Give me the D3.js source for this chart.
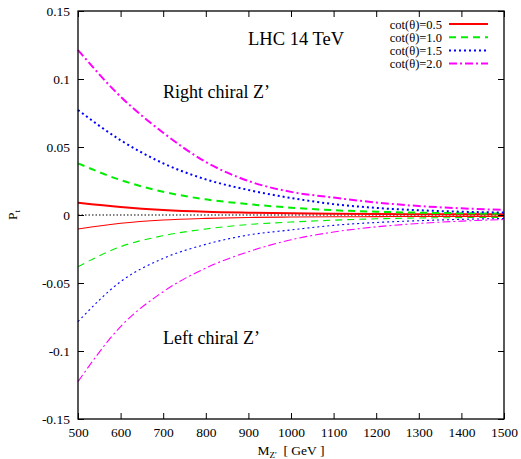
<!DOCTYPE html>
<html>
<head>
<meta charset="utf-8">
<script src="https://cdn.jsdelivr.net/npm/d3@7"></script>
<style>
  html, body { margin: 0; padding: 0; background: #fff; }
  svg { display: block; }
  svg text { font-family: "Liberation Serif", "Times New Roman", serif !important; fill: #000; }
</style>
</head>
<body>
<svg id="chart" width="521" height="459"></svg>
<script>
// Z' mass points (GeV)
const massValues = [500, 600, 700, 800, 900, 1000, 1100, 1200, 1300, 1400, 1500];

// Top polarization, right chiral Z'
const rightCot05 = [0.0090, 0.0059, 0.0037, 0.0024, 0.0017, 0.0012, 0.0009, 0.0007, 0.0006, 0.0005, 0.0005];
const rightCot10 = [0.0380, 0.0257, 0.0171, 0.0115, 0.0080, 0.0054, 0.0035, 0.0024, 0.0017, 0.0013, 0.0010];
const rightCot15 = [0.0772, 0.0550, 0.0380, 0.0262, 0.0184, 0.0125, 0.0080, 0.0052, 0.0035, 0.0024, 0.0018];
const rightCot20 = [0.1213, 0.0870, 0.0605, 0.0390, 0.0250, 0.0170, 0.0128, 0.0092, 0.0066, 0.0049, 0.0037];

// Top polarization, left chiral Z'
const leftCot05 = [-0.0103, -0.0061, -0.0037, -0.0025, -0.0018, -0.0015, -0.0013, -0.0012, -0.0011, -0.0010, -0.0010];
const leftCot10 = [-0.0380, -0.0233, -0.0152, -0.0103, -0.0070, -0.0052, -0.0038, -0.0028, -0.0022, -0.0019, -0.0017];
const leftCot15 = [-0.0784, -0.0490, -0.0319, -0.0216, -0.0147, -0.0110, -0.0076, -0.0055, -0.0042, -0.0032, -0.0026];
const leftCot20 = [-0.1225, -0.0820, -0.0564, -0.0390, -0.0270, -0.0182, -0.0125, -0.0087, -0.0062, -0.0045, -0.0033];

const legendLabels = ["cot(\u03B8)=0.5", "cot(\u03B8)=1.0", "cot(\u03B8)=1.5", "cot(\u03B8)=2.0"];
const xTickValues = [500, 600, 700, 800, 900, 1000, 1100, 1200, 1300, 1400, 1500];
const yTickValues = [0.15, 0.1, 0.05, 0, -0.05, -0.1, -0.15];
const yTickLabels = ["0.15", "0.1", "0.05", "0", "-0.05", "-0.1", "-0.15"];

// line styles per cot(theta)
const styles = [
  { color: "#ff0000", dash: null },
  { color: "#00ee00", dash: "7,5" },
  { color: "#0000ff", dash: "2,3" },
  { color: "#ff00ff", dash: "8,3,2,3" }
];

const svg = d3.select("#chart");
const margin = { left: 78, right: 17, top: 11, bottom: 40 };
const W = 521, H = 459;
const x = d3.scaleLinear().domain([500, 1500]).range([margin.left, W - margin.right]);
const y = d3.scaleLinear().domain([-0.15, 0.15]).range([H - margin.bottom, margin.top]);

const plotW = x.range()[1] - x.range()[0];
const plotH = y.range()[0] - y.range()[1];

// zero reference line
svg.append("line")
  .attr("x1", x(500)).attr("x2", x(1500))
  .attr("y1", y(0)).attr("y2", y(0))
  .attr("stroke", "#000").attr("stroke-width", 1)
  .attr("stroke-dasharray", "1.5,2");

const line = d3.line()
  .x(d => x(d[0]))
  .y(d => y(d[1]))
  .curve(d3.curveMonotoneX);

const rightSeries = [rightCot05, rightCot10, rightCot15, rightCot20];
const leftSeries = [leftCot05, leftCot10, leftCot15, leftCot20];

function drawSeries(list, width) {
  list.forEach((vals, i) => {
    const pts = massValues.map((m, k) => [m, vals[k]]);
    svg.append("path")
      .attr("d", line(pts))
      .attr("fill", "none")
      .attr("stroke", styles[i].color)
      .attr("stroke-width", width)
      .attr("stroke-dasharray", styles[i].dash);
  });
}
drawSeries(leftSeries, 1.1);
drawSeries(rightSeries, 2);

// axes with inward ticks on all four sides
const tickLen = 6;
const axBottom = svg.append("g").attr("transform", `translate(0,${y(-0.15)})`)
  .call(d3.axisBottom(x).tickValues(xTickValues).tickSize(-tickLen).tickPadding(8).tickFormat(d3.format("d")));
const axTop = svg.append("g").attr("transform", `translate(0,${y(0.15)})`)
  .call(d3.axisTop(x).tickValues(xTickValues).tickSize(-tickLen).tickFormat(""));
const axLeft = svg.append("g").attr("transform", `translate(${x(500)},0)`)
  .call(d3.axisLeft(y).tickValues(yTickValues).tickSize(-tickLen).tickPadding(8)
    .tickFormat((d, i) => yTickLabels[i]));
const axRight = svg.append("g").attr("transform", `translate(${x(1500)},0)`)
  .call(d3.axisRight(y).tickValues(yTickValues).tickSize(-tickLen).tickFormat(""));

[axBottom, axTop, axLeft, axRight].forEach(g => {
  g.attr("font-family", null).attr("font-size", 13.5);
  g.select(".domain").remove();
  g.selectAll(".tick line").attr("stroke", "#000").attr("stroke-width", 1);
  g.selectAll("text").attr("fill", "#000");
});

// frame
svg.append("rect")
  .attr("x", x(500)).attr("y", y(0.15))
  .attr("width", plotW).attr("height", plotH)
  .attr("fill", "none").attr("stroke", "#000").attr("stroke-width", 1.3);

// axis titles
const xt = svg.append("text")
  .attr("x", (x(500) + x(1500)) / 2).attr("y", 455)
  .attr("text-anchor", "middle").attr("font-size", 13.5);
xt.append("tspan").text("M");
xt.append("tspan").attr("font-size", 9).attr("dy", 3).text("Z'");
xt.append("tspan").attr("dy", -3).attr("xml:space", "preserve").text("  [ GeV ]");

const yt = svg.append("text")
  .attr("transform", `translate(17,${y(0)}) rotate(-90)`)
  .attr("text-anchor", "middle").attr("font-size", 13.5);
yt.append("tspan").text("P");
yt.append("tspan").attr("font-size", 9).attr("dy", 3).text("t");

// annotations
svg.append("text").attr("x", 248).attr("y", 45).attr("font-size", 18.5).text("LHC 14 TeV");
svg.append("text").attr("x", 163).attr("y", 98).attr("font-size", 18).text("Right chiral Z\u2019");
svg.append("text").attr("x", 163).attr("y", 344).attr("font-size", 18).text("Left chiral Z\u2019");

// legend
const legend = svg.append("g");
legendLabels.forEach((lab, i) => {
  const ly = 24 + i * 13.2;
  legend.append("text")
    .attr("x", 442).attr("y", ly + 4.5)
    .attr("text-anchor", "end").attr("font-size", 12.5).text(lab);
  legend.append("line")
    .attr("x1", 449).attr("x2", 488).attr("y1", ly).attr("y2", ly)
    .attr("stroke", styles[i].color).attr("stroke-width", 2)
    .attr("stroke-dasharray", styles[i].dash);
});
</script>
</body>
</html>
